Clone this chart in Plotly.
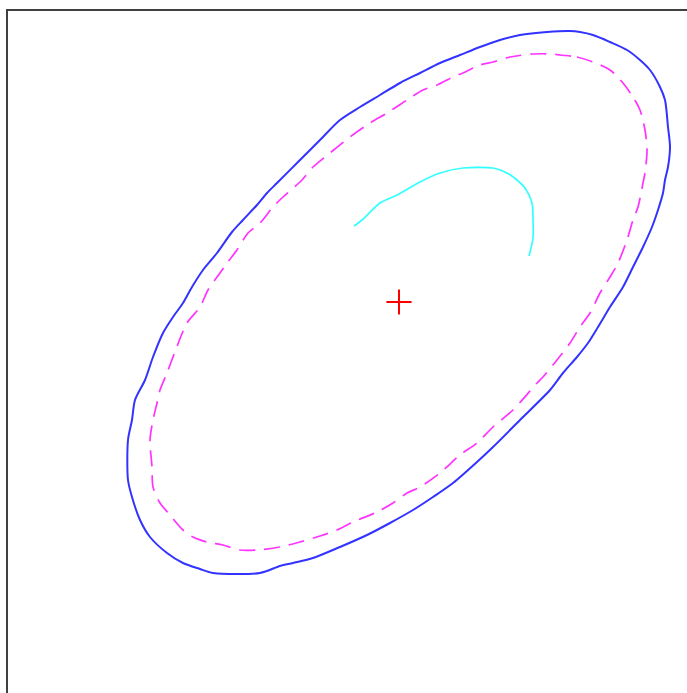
import plotly.graph_objects as go

# Outer contour (solid blue), closed
outer_x = [570, 580, 593, 610, 627, 640, 650, 660, 665, 668, 670, 668, 665, 663, 658, 652, 643, 633,
           623, 610, 598, 588, 577, 563, 550, 520, 493, 477, 453, 433, 413, 390, 367, 340, 313, 293,
           280, 260, 213, 200, 183, 167, 150, 140, 132, 128, 128, 132, 135, 145, 153, 163, 173, 183,
           192, 203, 217, 232, 243, 257, 267, 277, 300, 320, 340, 360, 380, 400, 420, 440, 460, 480,
           500, 520, 547, 570]
outer_y = [31, 32, 35, 42, 50, 60, 70, 87, 100, 127, 147, 167, 180, 193, 210, 227, 247, 267,
           287, 307, 327, 343, 357, 373, 390, 420, 447, 462, 483, 497, 510, 523, 535, 547, 558, 563,
           566, 573, 573, 569, 563, 553, 537, 520, 497, 480, 440, 420, 400, 380, 357, 333, 317, 303,
           287, 270, 253, 232, 220, 205, 193, 183, 160, 140, 120, 107, 95, 83, 73, 63, 55, 47,
           40, 35, 32, 31]

# Inner contour (dashed magenta), closed
inner_x = [560, 577, 593, 610, 623, 633, 640, 645, 647, 645, 643, 638, 633, 627, 618, 610, 600, 590,
           580, 570, 557, 543, 537, 513, 493, 477, 460, 440, 420, 407, 393, 377, 353, 337, 320, 300,
           280, 257, 240, 223, 207, 193, 183, 170, 160, 153, 152, 150, 153, 157, 160, 167, 173, 187,
           200, 208, 220, 227, 237, 248, 260, 273, 283, 302, 313, 330, 350, 370, 387, 410, 423, 437,
           453, 463, 480, 493, 510, 533, 553, 560]
inner_y = [55, 57, 62, 70, 83, 97, 110, 130, 150, 173, 183, 207, 220, 240, 263, 277, 293, 313,
           327, 343, 360, 377, 383, 410, 427, 443, 455, 473, 487, 493, 503, 512, 522, 530, 536, 542,
           547, 550, 550, 545, 542, 537, 530, 515, 503, 487, 467, 440, 420, 403, 390, 373, 357, 323,
           307, 290, 273, 263, 250, 233, 223, 207, 197, 180, 167, 153, 137, 123, 113, 98, 90, 85,
           77, 73, 65, 62, 57, 54, 54, 55]

# Path (cyan), open
path_x = [354, 362, 380, 397, 420, 440, 463, 493, 507, 517, 525, 532, 533, 533, 529]
path_y = [226, 220, 203, 195, 182, 173, 168, 168, 173, 180, 188, 203, 220, 238, 256]

# Centre point
centre_x = [399]
centre_y = [302]

fig = go.Figure()
fig.add_trace(go.Scatter(x=outer_x, y=outer_y, mode="lines",
                         line=dict(color="#3333ff", width=2, shape="spline", smoothing=0.8)))
fig.add_trace(go.Scatter(x=inner_x, y=inner_y, mode="lines",
                         line=dict(color="#ff33ff", width=1.7, dash="16px,9px",
                                   shape="spline", smoothing=0.8)))
fig.add_trace(go.Scatter(x=path_x, y=path_y, mode="lines",
                         line=dict(color="#33ffff", width=1.7, shape="spline", smoothing=0.8)))
fig.add_trace(go.Scatter(x=centre_x, y=centre_y, mode="markers",
                         marker=dict(symbol="cross-thin", size=18,
                                     line=dict(color="#ff0000", width=2))))

fig.update_layout(
    width=687, height=693,
    margin=dict(l=8, r=0, t=11, b=0),
    paper_bgcolor="white", plot_bgcolor="white",
    showlegend=False,
    xaxis=dict(range=[8, 687], showgrid=False, zeroline=False, showticklabels=False,
               ticks="", showline=True, side="top", linecolor="#404040", linewidth=2),
    yaxis=dict(range=[693, 11], showgrid=False, zeroline=False, showticklabels=False,
               ticks="", showline=True, side="left", linecolor="#404040", linewidth=2),
)

fig.write_html("out.html")
